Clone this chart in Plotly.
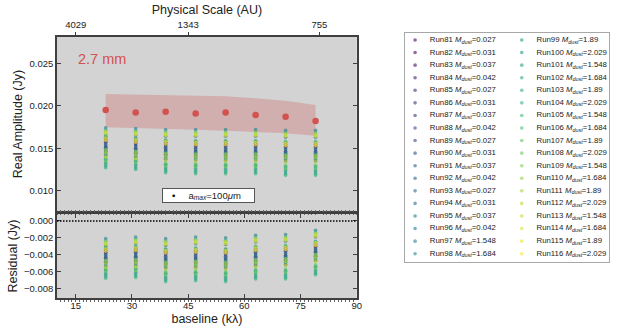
import plotly.graph_objects as go
import plotly.colors as pc

# --- data ---
baseline_klambda = [23, 31, 39, 47, 55, 63, 71, 79]
observed_amp = [0.0195, 0.0192, 0.0193, 0.0191, 0.0192, 0.0189, 0.0187, 0.0182]
band_upper = [0.02138, 0.02130, 0.02122, 0.02114, 0.02111, 0.02087, 0.02059, 0.02008]
band_lower = [0.01746, 0.01734, 0.01726, 0.01717, 0.01706, 0.01694, 0.01675, 0.01647]

run_names = ['Run81', 'Run82', 'Run83', 'Run84', 'Run85', 'Run86', 'Run87', 'Run88',
             'Run89', 'Run90', 'Run91', 'Run92', 'Run93', 'Run94', 'Run95', 'Run96',
             'Run97', 'Run98', 'Run99', 'Run100', 'Run101', 'Run102', 'Run103', 'Run104',
             'Run105', 'Run106', 'Run107', 'Run108', 'Run109', 'Run110', 'Run111', 'Run112',
             'Run113', 'Run114', 'Run115', 'Run116']
run_mdust = ['0.027', '0.031', '0.037', '0.042', '0.027', '0.031', '0.037', '0.042',
             '0.027', '0.031', '0.037', '0.042', '0.027', '0.031', '0.037', '0.042',
             '1.548', '1.684', '1.89', '2.029', '1.548', '1.684', '1.89', '2.029',
             '1.548', '1.684', '1.89', '2.029', '1.548', '1.684', '1.89', '2.029',
             '1.548', '1.684', '1.89', '2.029']

# model real amplitude (Jy) per run at each baseline
model_amp = [
    [0.0158, 0.0156, 0.0154, 0.0153, 0.0153, 0.0153, 0.0152, 0.0152],  # Run81
    [0.0152, 0.0150, 0.0148, 0.0147, 0.0147, 0.0147, 0.0146, 0.0146],
    [0.0146, 0.0144, 0.0142, 0.0141, 0.0141, 0.0141, 0.0140, 0.0140],
    [0.0141, 0.0139, 0.0137, 0.0136, 0.0136, 0.0136, 0.0135, 0.0135],
    [0.0160, 0.0158, 0.0156, 0.0155, 0.0155, 0.0155, 0.0154, 0.0154],  # Run85
    [0.0155, 0.0153, 0.0151, 0.0150, 0.0150, 0.0150, 0.0149, 0.0149],
    [0.0149, 0.0147, 0.0145, 0.0144, 0.0144, 0.0144, 0.0143, 0.0143],
    [0.0144, 0.0142, 0.0140, 0.0139, 0.0139, 0.0139, 0.0138, 0.0138],
    [0.0163, 0.0161, 0.0159, 0.0158, 0.0158, 0.0158, 0.0157, 0.0157],  # Run89
    [0.0157, 0.0155, 0.0153, 0.0152, 0.0152, 0.0152, 0.0151, 0.0151],
    [0.0151, 0.0149, 0.0147, 0.0146, 0.0146, 0.0146, 0.0145, 0.0145],
    [0.0147, 0.0145, 0.0143, 0.0142, 0.0142, 0.0142, 0.0141, 0.0141],
    [0.0166, 0.0165, 0.0164, 0.0164, 0.0164, 0.0164, 0.0163, 0.0163],  # Run93
    [0.0161, 0.0159, 0.0157, 0.0156, 0.0156, 0.0156, 0.0155, 0.0155],
    [0.0154, 0.0152, 0.0150, 0.0149, 0.0149, 0.0149, 0.0148, 0.0148],
    [0.0150, 0.0148, 0.0146, 0.0145, 0.0145, 0.0145, 0.0144, 0.0144],
    [0.0174, 0.0173, 0.0172, 0.0172, 0.0172, 0.0172, 0.0171, 0.0171],  # Run97
    [0.0137, 0.0135, 0.0131, 0.0130, 0.0130, 0.0130, 0.0128, 0.0128],
    [0.0133, 0.0131, 0.0127, 0.0126, 0.0126, 0.0126, 0.0124, 0.0124],
    [0.0129, 0.0127, 0.0123, 0.0122, 0.0122, 0.0122, 0.0120, 0.0120],
    [0.0171, 0.0170, 0.0169, 0.0169, 0.0169, 0.0169, 0.0168, 0.0168],  # Run101
    [0.0136, 0.0134, 0.0130, 0.0129, 0.0129, 0.0129, 0.0127, 0.0127],
    [0.0131, 0.0129, 0.0125, 0.0124, 0.0124, 0.0124, 0.0122, 0.0122],
    [0.0127, 0.0125, 0.0121, 0.0120, 0.0120, 0.0120, 0.0118, 0.0118],
    [0.0164, 0.0162, 0.0160, 0.0159, 0.0159, 0.0159, 0.0158, 0.0158],  # Run105
    [0.0143, 0.0141, 0.0139, 0.0138, 0.0138, 0.0138, 0.0137, 0.0137],
    [0.0139, 0.0137, 0.0133, 0.0132, 0.0132, 0.0132, 0.0130, 0.0130],
    [0.0135, 0.0133, 0.0129, 0.0128, 0.0128, 0.0128, 0.0126, 0.0126],
    [0.0168, 0.0167, 0.0166, 0.0166, 0.0166, 0.0166, 0.0165, 0.0165],  # Run109
    [0.0148, 0.0146, 0.0144, 0.0143, 0.0143, 0.0143, 0.0142, 0.0142],
    [0.0145, 0.0143, 0.0141, 0.0140, 0.0140, 0.0140, 0.0139, 0.0139],
    [0.0140, 0.0138, 0.0136, 0.0135, 0.0135, 0.0135, 0.0134, 0.0134],
    [0.0170, 0.0169, 0.0168, 0.0168, 0.0168, 0.0168, 0.0167, 0.0167],  # Run113
    [0.0167, 0.0166, 0.0165, 0.0165, 0.0165, 0.0165, 0.0164, 0.0164],
    [0.0162, 0.0160, 0.0158, 0.0157, 0.0157, 0.0157, 0.0156, 0.0156],
    [0.0159, 0.0157, 0.0155, 0.0154, 0.0154, 0.0154, 0.0153, 0.0153],
]

phys_scale_au = ['4029', '1343', '755']
phys_scale_baseline = [15, 45, 80]

# --- styles ---
FONT = 'Liberation Sans, Arial, sans-serif'
FRAME = '#3f3f3f'
PANEL_BG = '#d3d3d3'
RED = '#d2524f'
run_colors = pc.sample_colorscale('Viridis', len(run_names))

fig = go.Figure()

# uncertainty band and observed points
fig.add_trace(go.Scatter(
    x=baseline_klambda + baseline_klambda[::-1],
    y=band_upper + band_lower[::-1],
    fill='toself', fillcolor='rgba(205,92,92,0.3)', line=dict(width=0),
    mode='lines', xaxis='x', yaxis='y', showlegend=False, hoverinfo='skip'))

for name, mdust, amp, color in zip(run_names, run_mdust, model_amp, run_colors):
    resid = [m - o for m, o in zip(amp, observed_amp)]
    fig.add_trace(go.Scatter(
        x=baseline_klambda, y=amp, mode='markers', xaxis='x', yaxis='y',
        marker=dict(size=3.6, color=color, opacity=0.65), showlegend=False,
        name=f'{name} M_dust={mdust}'))
    fig.add_trace(go.Scatter(
        x=baseline_klambda, y=resid, mode='markers', xaxis='x2', yaxis='y2',
        marker=dict(size=3.6, color=color, opacity=0.65), showlegend=False,
        name=f'{name} M_dust={mdust}'))

fig.add_trace(go.Scatter(
    x=baseline_klambda, y=observed_amp, mode='markers', xaxis='x', yaxis='y',
    marker=dict(size=6.5, color=RED), showlegend=False, name='2.7 mm'))

# top axis in physical scale (needs a trace to exist)
fig.add_trace(go.Scatter(x=phys_scale_baseline, y=[None] * len(phys_scale_baseline),
                         xaxis='x3', yaxis='y', mode='markers', showlegend=False,
                         hoverinfo='skip'))

# custom two-column legend as its own little subplot
n_rows = 18
leg_col = [i // n_rows for i in range(len(run_names))]
leg_row = [i % n_rows for i in range(len(run_names))]
leg_text = [f'{n} <i>M</i><sub><i>dust</i></sub>={m}' for n, m in zip(run_names, run_mdust)]
fig.add_trace(go.Scatter(
    x=[10.6 + c * 107.5 for c in leg_col], y=leg_row, mode='markers',
    marker=dict(size=3.6, color=run_colors, opacity=0.6),
    xaxis='x4', yaxis='y4', showlegend=False, hoverinfo='skip'))
fig.add_trace(go.Scatter(
    x=[25.5 + c * 107.5 for c in leg_col], y=leg_row, mode='text',
    text=leg_text, textposition='middle right', cliponaxis=False,
    textfont=dict(size=7.8, color='#222', family=FONT),
    xaxis='x4', yaxis='y4', showlegend=False, hoverinfo='skip'))

W, H = 621, 335
L, R, T, B = 57, 7, 33, 37
pw, ph = W - L - R, H - T - B


def px_x(p):
    return (p - L) / pw


def px_y(p):
    return (H - B - p) / ph


main_dom = [0, px_x(359.5)]
tick_font = dict(size=9.5, color='#222', family=FONT)
title_font = dict(size=12.5, color='#222', family=FONT)
minor = dict(ticks='outside', ticklen=2, tickwidth=0.6, tickcolor='#666', dtick=1, tick0=0)

common_x = dict(range=[10, 90], domain=main_dom, showgrid=False, zeroline=False,
                showline=True, linecolor=FRAME, linewidth=1.5, tickfont=tick_font)
common_y = dict(showgrid=False, zeroline=False, showline=True, linecolor=FRAME,
                linewidth=1.5, ticks='inside', ticklen=4, tickcolor=FRAME,
                mirror='ticks', tickformat='.3f', tickfont=tick_font)

fig.update_layout(
    width=W, height=H, margin=dict(l=L, r=R, t=T, b=B),
    paper_bgcolor='white', plot_bgcolor='white',
    font=dict(family=FONT, color='#222'), showlegend=False,
    xaxis=dict(common_x, anchor='y', mirror=True, ticks='', showticklabels=False,
               minor=minor),
    yaxis=dict(common_y, domain=[px_y(211), px_y(37)], range=[0.0076, 0.0281],
               tickvals=[0.010, 0.015, 0.020, 0.025],
               title=dict(text='Real Amplitude (Jy)', font=title_font, standoff=4)),
    xaxis2=dict(common_x, anchor='y2', ticks='inside', ticklen=4, tickcolor=FRAME,
                mirror='ticks', tick0=0, dtick=15, minor=minor, ticklabelstandoff=-2,
                title=dict(text='baseline (kλ)', font=title_font, standoff=4)),
    yaxis2=dict(common_y, domain=[0, px_y(214)], range=[-0.00915, 0.00083],
                tick0=0, dtick=0.002,
                title=dict(text='Residual (Jy)', font=title_font, standoff=4)),
    xaxis3=dict(range=[10, 90], overlaying='x', anchor='y', side='top',
                showgrid=False, zeroline=False, showline=False,
                tickmode='array', tickvals=phys_scale_baseline, ticktext=phys_scale_au,
                ticks='outside', ticklen=4, tickcolor=FRAME, tickfont=tick_font,
                title=dict(text='Physical Scale (AU)', font=title_font, standoff=1)),
    xaxis4=dict(domain=[px_x(407.7), 1], range=[0, 206], anchor='y4',
                showgrid=False, zeroline=False, showticklabels=False, ticks='',
                showline=True, mirror=True, linecolor='#a8a8a8', linewidth=1),
    yaxis4=dict(domain=[px_y(262), 1], range=[17.66, -0.557], anchor='x4',
                showgrid=False, zeroline=False, showticklabels=False, ticks='',
                showline=True, mirror=True, linecolor='#a8a8a8', linewidth=1),
)

# grey panel backgrounds and zero line
for xr, yr in [('x domain', 'y domain'), ('x2 domain', 'y2 domain')]:
    fig.add_shape(type='rect', xref=xr, yref=yr, x0=0, x1=1, y0=0, y1=1,
                  fillcolor=PANEL_BG, line=dict(width=0), layer='below')
fig.add_shape(type='line', xref='x2 domain', yref='y2', x0=0, x1=1, y0=0, y1=0,
              line=dict(color='black', width=1.5, dash='1.5px,1.5px'))

fig.add_annotation(x=15, y=0.02547, xref='x', yref='y', text='2.7 mm',
                   showarrow=False, xanchor='left', yanchor='middle',
                   font=dict(size=14.5, color=RED, family=FONT))
fig.add_annotation(x=px_x(163.3), y=px_y(188.3), xref='paper', yref='paper',
                   xanchor='left', yanchor='top', showarrow=False, align='left',
                   text='\u00a0\u00a0\u00a0<span style="color:black">•</span>'
                        '\u00a0\u00a0\u00a0\u00a0\u00a0a<sub><i>max</i></sub>=100<i>μ</i>m',
                   font=dict(size=9.5, color='#222', family=FONT),
                   bgcolor='white', bordercolor='#555', borderwidth=1, borderpad=1,
                   width=89, height=11)

# the page body has a default 8px margin; drop it so the figure sits at the origin
fig.write_html('out.html', config={'displayModeBar': False},
               post_script="document.body.style.margin = '0';")
